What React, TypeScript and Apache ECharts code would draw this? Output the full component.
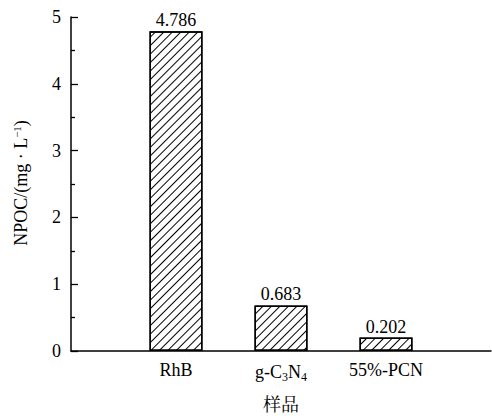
import React, { useEffect, useRef } from "react";
import * as echarts from "echarts";

const categories = ["", "RhB", "g-C{sub|3}N{sub|4}", "55%-PCN", ""];
const values: (number | string)[] = ["-", 4.786, 0.683, 0.202, "-"];
const valueLabels = ["", "4.786", "0.683", "0.202", ""];
const yTicks = [0, 1, 2, 3, 4, 5];

const FONT = "Liberation Serif";
const CJK = "Noto Serif CJK SC";

export default function App() {
  const ref = useRef<HTMLDivElement>(null);
  useEffect(() => {
    const chart = echarts.init(ref.current!, null, { renderer: "svg" });
    chart.setOption({
      animation: false,
      backgroundColor: "#fff",
      textStyle: { fontFamily: FONT },
      grid: { left: 71, top: 17, right: 1, bottom: 65, containLabel: false, outerBoundsMode: "none" },
      xAxis: {
        type: "category",
        data: categories,
        boundaryGap: false,
        name: "样品",
        nameLocation: "middle",
        nameGap: 43,
        nameTextStyle: { fontFamily: CJK, fontSize: 18, color: "#000" },
        axisLine: { lineStyle: { color: "#000", width: 1.5 } },
        axisTick: { show: false },
        axisLabel: {
          interval: 0,
          margin: 10,
          fontFamily: FONT,
          fontSize: 18,
          color: "#000",
          rich: {
            sub: { fontFamily: FONT, fontSize: 12, color: "#000", padding: [10, 0, 0, 0] },
          },
        },
        splitLine: { show: false },
      },
      yAxis: {
        type: "value",
        min: yTicks[0],
        max: yTicks[yTicks.length - 1],
        interval: 1,
        axisLine: { show: true, lineStyle: { color: "#000", width: 1.5 } },
        axisTick: { show: true, inside: true, length: 7, lineStyle: { color: "#000", width: 1.3 } },
        minorTick: { show: true, splitNumber: 2, length: 4, lineStyle: { color: "#000", width: 1.3 } },
        axisLabel: { margin: 10, fontFamily: FONT, fontSize: 18, color: "#000" },
        splitLine: { show: false },
      },
      graphic: [
        {
          type: "text",
          x: 21,
          y: 183,
          rotation: Math.PI / 2,
          style: {
            text: "NPOC/(mg · L{sup|−1})",
            fontFamily: FONT,
            fontSize: 18,
            fill: "#000",
            align: "center",
            verticalAlign: "middle",
            rich: {
              sup: { fontFamily: FONT, fontSize: 11, fill: "#000", padding: [0, 0, 9, 0] },
            },
          },
        },
      ],
      series: [
        {
          type: "bar",
          data: values,
          barWidth: 53,
          itemStyle: {
            color: "#fff",
            borderColor: "#000",
            borderWidth: 1.5,
            decal: {
              symbol: "rect",
              symbolSize: 1,
              color: "#000",
              backgroundColor: "#fff",
              dashArrayX: [[1, 0]],
              dashArrayY: [1, 4.5],
              rotation: -Math.PI / 4,
            },
          },
          label: {
            show: true,
            position: "top",
            distance: 2,
            fontFamily: FONT,
            fontSize: 18,
            color: "#000",
            formatter: (p: any) => valueLabels[p.dataIndex],
          },
        },
      ],
    });
    return () => chart.dispose();
  }, []);
  return <div ref={ref} style={{ width: 492, height: 416, position: "absolute", left: 0, top: 0 }} />;
}
